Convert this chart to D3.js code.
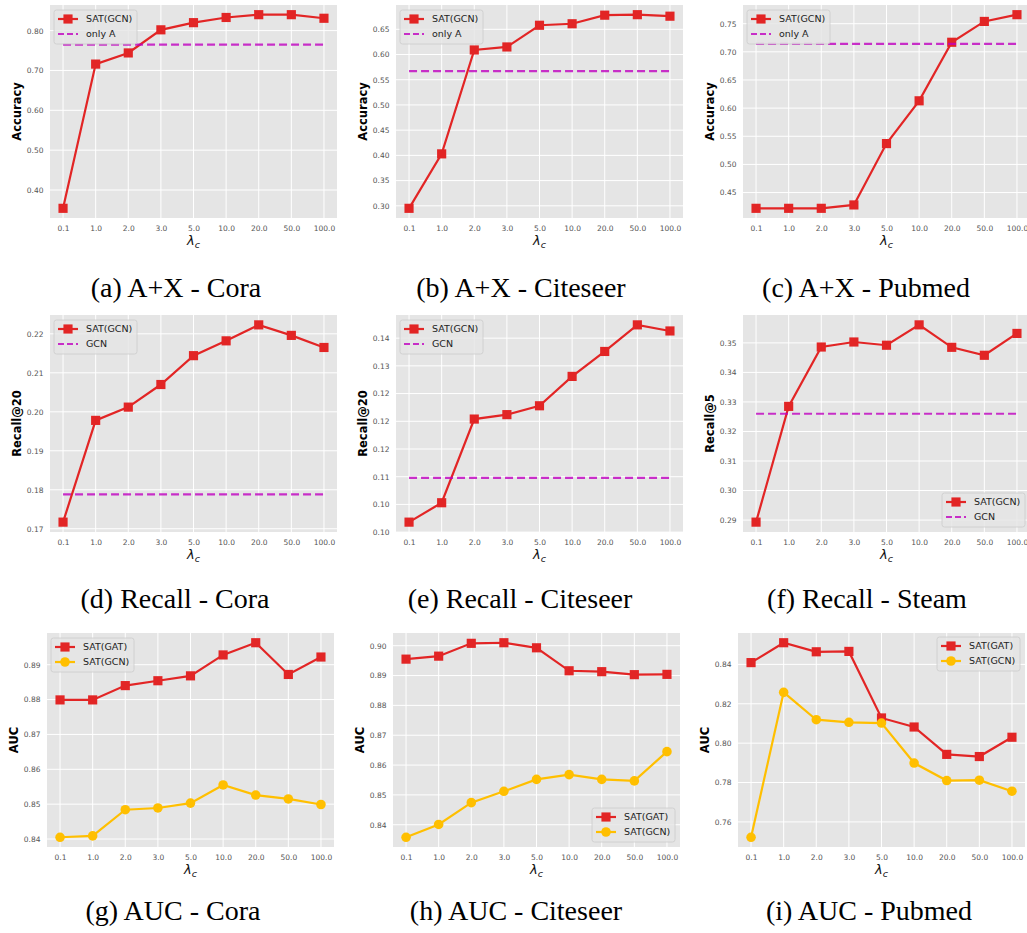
<!DOCTYPE html>
<html>
<head>
<meta charset="utf-8">
<script src="https://cdn.jsdelivr.net/npm/d3@7"></script>
<style>
  html, body { margin: 0; padding: 0; background: #fff; }
  svg { display: block; }
</style>
</head>
<body>
<div id="chart"></div>
<script>
// ============================================================================
// DATA
// ============================================================================
const categories = ['0.1', '1.0', '2.0', '3.0', '5.0', '10.0', '20.0', '50.0', '100.0'];

// row 1: accuracy (A+X)
const coraAccSat = [0.354, 0.716, 0.744, 0.802, 0.820, 0.833, 0.840, 0.840, 0.831];
const coraAccOnlyA = 0.765;
const citeseerAccSat = [0.295, 0.403, 0.609, 0.615, 0.658, 0.661, 0.678, 0.679, 0.676];
const citeseerAccOnlyA = 0.567;
const pubmedAccSat = [0.422, 0.422, 0.422, 0.428, 0.537, 0.613, 0.717, 0.754, 0.766];
const pubmedAccOnlyA = 0.714;

// row 2: recall
const coraRecallSat = [0.1717, 0.1978, 0.2012, 0.2070, 0.2144, 0.2182, 0.2223, 0.2196, 0.2165];
const coraRecallGcn = 0.1788;
const citeseerRecallSat = [0.1018, 0.1053, 0.1204, 0.1212, 0.1228, 0.1281, 0.1326, 0.1374, 0.1363];
const citeseerRecallGcn = 0.1098;
const steamRecallSat = [0.2893, 0.3285, 0.3486, 0.3503, 0.3492, 0.3561, 0.3485, 0.3458, 0.3532];
const steamRecallGcn = 0.3260;

// row 3: AUC
const coraAucGat = [0.8799, 0.8799, 0.8840, 0.8854, 0.8868, 0.8928, 0.8963, 0.8872, 0.8922];
const coraAucGcn = [0.8405, 0.8409, 0.8484, 0.8489, 0.8503, 0.8555, 0.8526, 0.8515, 0.8499];
const citeseerAucGat = [0.8955, 0.8965, 0.9008, 0.9010, 0.8993, 0.8916, 0.8913, 0.8903, 0.8904];
const citeseerAucGcn = [0.8358, 0.8401, 0.8474, 0.8512, 0.8552, 0.8568, 0.8552, 0.8547, 0.8645];
const pubmedAucGat = [0.8409, 0.8510, 0.8464, 0.8466, 0.8128, 0.8082, 0.7943, 0.7932, 0.8030];
const pubmedAucGcn = [0.7522, 0.8258, 0.8119, 0.8106, 0.8102, 0.7899, 0.7810, 0.7812, 0.7756];

// y tick values and labels
const ticksA = [0.40, 0.50, 0.60, 0.70, 0.80];
const labelsA = ['0.40', '0.50', '0.60', '0.70', '0.80'];
const ticksB = [0.30, 0.35, 0.40, 0.45, 0.50, 0.55, 0.60, 0.65];
const labelsB = ['0.30', '0.35', '0.40', '0.45', '0.50', '0.55', '0.60', '0.65'];
const ticksC = [0.45, 0.50, 0.55, 0.60, 0.65, 0.70, 0.75];
const labelsC = ['0.45', '0.50', '0.55', '0.60', '0.65', '0.70', '0.75'];
const ticksD = [0.17, 0.18, 0.19, 0.20, 0.21, 0.22];
const labelsD = ['0.17', '0.18', '0.19', '0.20', '0.21', '0.22'];
const ticksE = [0.100, 0.105, 0.110, 0.115, 0.120, 0.125, 0.130, 0.135];
const labelsE = ['0.10', '0.10', '0.11', '0.12', '0.12', '0.12', '0.13', '0.14'];
const ticksF = [0.29, 0.30, 0.31, 0.32, 0.33, 0.34, 0.35];
const labelsF = ['0.29', '0.30', '0.31', '0.32', '0.33', '0.34', '0.35'];
const ticksG = [0.84, 0.85, 0.86, 0.87, 0.88, 0.89];
const labelsG = ['0.84', '0.85', '0.86', '0.87', '0.88', '0.89'];
const ticksH = [0.84, 0.85, 0.86, 0.87, 0.88, 0.89, 0.90];
const labelsH = ['0.84', '0.85', '0.86', '0.87', '0.88', '0.89', '0.90'];
const ticksI = [0.76, 0.78, 0.80, 0.82, 0.84];
const labelsI = ['0.76', '0.78', '0.80', '0.82', '0.84'];

const captions = [
    '(a) A+X - Cora', '(b) A+X - Citeseer', '(c) A+X - Pubmed',
    '(d) Recall - Cora', '(e) Recall - Citeseer', '(f) Recall - Steam',
    '(g) AUC - Cora', '(h) AUC - Citeseer', '(i) AUC - Pubmed'
];

// ============================================================================
// LAYOUT
// ============================================================================
const RED = '#e22525';
const GOLD = '#ffbf00';
const MAGENTA = '#bf00bf';
const PLOT_W = 287;
const rows = [
    { top: 5, h: 213, lefts: [50, 396, 743], capY: 297, capX: [176, 521, 866] },
    { top: 315, h: 217, lefts: [50, 396, 743], capY: 608, capX: [175, 520, 867] },
    { top: 633, h: 214, lefts: [47, 393, 738], capY: 920, capX: [173, 516, 869] }
];

const sat = (name, values) => ({ name, values, color: RED, shape: 'square' });
const gcnDot = (name, values) => ({ name, values, color: GOLD, shape: 'circle' });

const panels = [
    { series: [sat('SAT(GCN)', coraAccSat)], base: { name: 'only A', value: coraAccOnlyA }, yLabel: 'Accuracy', ticks: ticksA, labels: labelsA, legend: 'tl' },
    { series: [sat('SAT(GCN)', citeseerAccSat)], base: { name: 'only A', value: citeseerAccOnlyA }, yLabel: 'Accuracy', ticks: ticksB, labels: labelsB, legend: 'tl' },
    { series: [sat('SAT(GCN)', pubmedAccSat)], base: { name: 'only A', value: pubmedAccOnlyA }, yLabel: 'Accuracy', ticks: ticksC, labels: labelsC, legend: 'tl' },
    { series: [sat('SAT(GCN)', coraRecallSat)], base: { name: 'GCN', value: coraRecallGcn }, yLabel: 'Recall@20', ticks: ticksD, labels: labelsD, legend: 'tl' },
    { series: [sat('SAT(GCN)', citeseerRecallSat)], base: { name: 'GCN', value: citeseerRecallGcn }, yLabel: 'Recall@20', ticks: ticksE, labels: labelsE, legend: 'tl' },
    { series: [sat('SAT(GCN)', steamRecallSat)], base: { name: 'GCN', value: steamRecallGcn }, yLabel: 'Recall@5', ticks: ticksF, labels: labelsF, legend: 'br' },
    { series: [sat('SAT(GAT)', coraAucGat), gcnDot('SAT(GCN)', coraAucGcn)], yLabel: 'AUC', ticks: ticksG, labels: labelsG, legend: 'tl' },
    { series: [sat('SAT(GAT)', citeseerAucGat), gcnDot('SAT(GCN)', citeseerAucGcn)], yLabel: 'AUC', ticks: ticksH, labels: labelsH, legend: 'br' },
    { series: [sat('SAT(GAT)', pubmedAucGat), gcnDot('SAT(GCN)', pubmedAucGcn)], yLabel: 'AUC', ticks: ticksI, labels: labelsI, legend: 'tr' }
];

const svg = d3.select('#chart').append('svg')
    .attr('width', 1027)
    .attr('height', 933)
    .attr('font-family', '"DejaVu Sans", sans-serif');

function symbolPath(shape) {
    return shape === 'square'
        ? d3.symbol(d3.symbolSquare, 84)()
        : d3.symbol(d3.symbolCircle, 72)();
}

panels.forEach((p, i) => {
    const row = rows[Math.floor(i / 3)];
    const col = i % 3;
    const left = row.lefts[col];
    const w = PLOT_W, h = row.h;

    const g = svg.append('g').attr('transform', `translate(${left},${row.top})`);

    const x = d3.scalePoint().domain(categories).range([0, w]).padding(0.4);
    const all = p.series.flatMap(s => s.values).concat(p.base ? [p.base.value] : []);
    const [lo, hi] = d3.extent(all);
    const pad = (hi - lo) * 0.05;
    const y = d3.scaleLinear().domain([lo - pad, hi + pad]).range([h, 0]);

    // BACKGROUND + GRID
    g.append('rect').attr('width', w).attr('height', h).attr('fill', '#e5e5e5');
    g.append('g').selectAll('line').data(p.ticks).join('line')
        .attr('x1', 0).attr('x2', w)
        .attr('y1', d => y(d)).attr('y2', d => y(d))
        .attr('stroke', '#fff').attr('stroke-width', 1);
    g.append('g').selectAll('line').data(categories).join('line')
        .attr('x1', d => x(d)).attr('x2', d => x(d))
        .attr('y1', 0).attr('y2', h)
        .attr('stroke', '#fff').attr('stroke-width', 1);

    // AXES
    const ax = g.append('g')
        .attr('transform', `translate(0,${h})`)
        .call(d3.axisBottom(x).tickSize(0).tickPadding(8));
    const ay = g.append('g')
        .call(d3.axisLeft(y).tickValues(p.ticks).tickFormat((d, k) => p.labels[k]).tickSize(0).tickPadding(6.5));
    [ax, ay].forEach(a => {
        a.select('.domain').remove();
        a.attr('font-family', null).attr('font-size', null);
        a.selectAll('text').attr('fill', '#555').attr('font-size', 7.5);
    });

    // AXIS LABELS
    const xl = g.append('text')
        .attr('x', w / 2).attr('y', h + 27)
        .attr('text-anchor', 'middle')
        .attr('font-size', 13).attr('font-style', 'italic').attr('fill', '#111');
    xl.append('tspan').text('λ');
    xl.append('tspan').attr('font-size', 9.5).attr('dy', 3).text('c');

    g.append('text')
        .attr('transform', `translate(-33,${h / 2}) rotate(-90)`)
        .attr('text-anchor', 'middle')
        .attr('dominant-baseline', 'central')
        .attr('font-size', 11.5).attr('font-weight', 'bold').attr('fill', '#000')
        .text(p.yLabel);

    // SERIES
    const line = d3.line().x((d, k) => x(categories[k])).y(d => y(d));
    p.series.forEach(s => {
        g.append('path').datum(s.values)
            .attr('d', line)
            .attr('fill', 'none').attr('stroke', s.color).attr('stroke-width', 2.2);
        g.append('g').selectAll('path').data(s.values).join('path')
            .attr('transform', (d, k) => `translate(${x(categories[k])},${y(d)})`)
            .attr('d', symbolPath(s.shape))
            .attr('fill', s.color);
    });
    if (p.base) {
        g.append('line')
            .attr('x1', x(categories[0])).attr('x2', x(categories[categories.length - 1]))
            .attr('y1', y(p.base.value)).attr('y2', y(p.base.value))
            .attr('stroke', MAGENTA).attr('stroke-opacity', 0.8)
            .attr('stroke-width', 2.2).attr('stroke-dasharray', '8,4');
    }

    // LEGEND
    const items = p.series.map(s => ({ name: s.name, color: s.color, shape: s.shape }))
        .concat(p.base ? [{ name: p.base.name, color: MAGENTA, dashed: true }] : []);
    const lw = 83, lh = 34;
    let lx = 4, ly = 5;
    if (p.legend === 'br') { lx = w - lw - 5; ly = h - lh - 5; }
    if (p.legend === 'tr') { lx = w - lw - 5; ly = 4; }
    const lg = g.append('g').attr('transform', `translate(${lx},${ly})`);
    lg.append('rect').attr('width', lw).attr('height', lh).attr('rx', 2.5)
        .attr('fill', '#e5e5e5').attr('fill-opacity', 0.8)
        .attr('stroke', '#cccccc').attr('stroke-width', 0.8);
    items.forEach((it, k) => {
        const yy = 9 + k * 15;
        lg.append('line').attr('x1', 4).attr('x2', 24).attr('y1', yy).attr('y2', yy)
            .attr('stroke', it.color).attr('stroke-width', 2.2)
            .attr('stroke-opacity', it.dashed ? 0.8 : 1)
            .attr('stroke-dasharray', it.dashed ? '6,3' : null);
        if (!it.dashed) {
            lg.append('path').attr('transform', `translate(14,${yy})`)
                .attr('d', symbolPath(it.shape)).attr('fill', it.color);
        }
        lg.append('text').attr('x', 32).attr('y', yy).attr('dy', '0.35em')
            .attr('font-size', 9.5).attr('fill', '#222').text(it.name);
    });

    // CAPTION
    svg.append('text')
        .attr('x', row.capX[col]).attr('y', row.capY)
        .attr('text-anchor', 'middle')
        .attr('font-family', '"Liberation Serif", "Times New Roman", serif')
        .attr('font-size', 28).attr('fill', '#000')
        .text(captions[i]);
});
</script>
</body>
</html>
